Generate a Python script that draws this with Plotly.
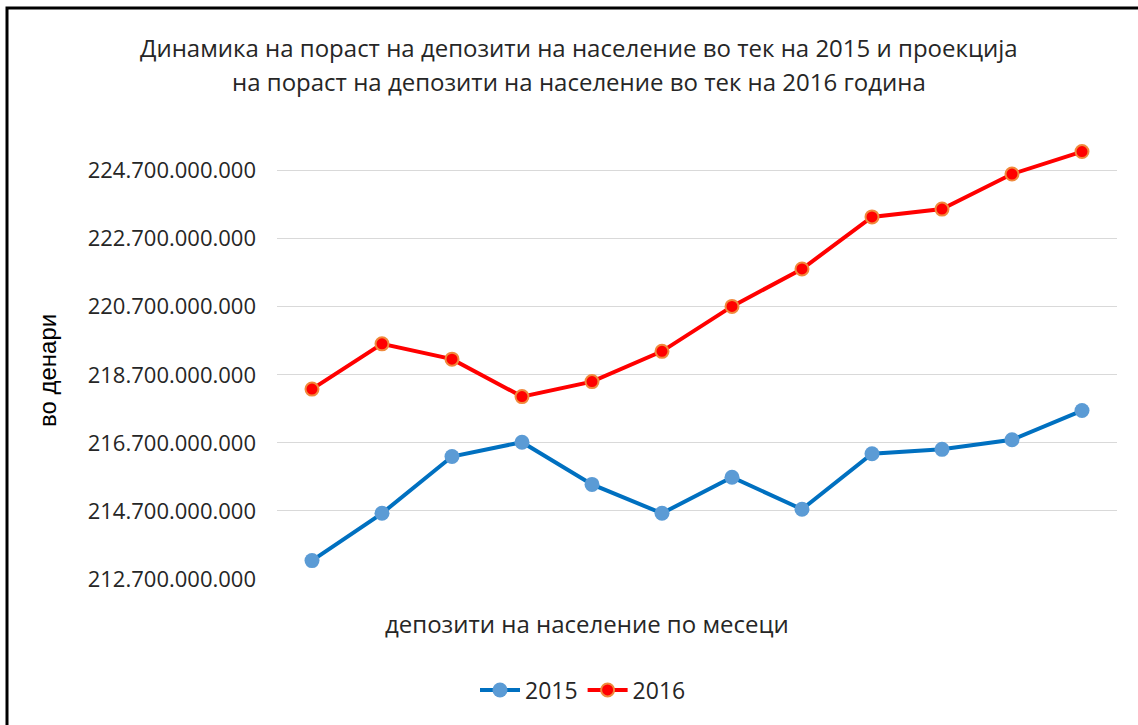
import plotly.graph_objects as go

months = ["Јан", "Фев", "Мар", "Апр", "Мај", "Јун", "Јул", "Авг", "Сеп", "Окт", "Ное", "Дек"]
dep_2015 = [213.24e9, 214.63e9, 216.30e9, 216.72e9, 215.48e9, 214.63e9,
            215.69e9, 214.75e9, 216.38e9, 216.51e9, 216.79e9, 217.65e9]
dep_2016 = [218.28e9, 219.61e9, 219.16e9, 218.06e9, 218.50e9, 219.39e9,
            220.71e9, 221.81e9, 223.34e9, 223.57e9, 224.60e9, 225.26e9]
tick_vals = [212.7e9, 214.7e9, 216.7e9, 218.7e9, 220.7e9, 222.7e9, 224.7e9]
tick_text = ["212.700.000.000", "214.700.000.000", "216.700.000.000", "218.700.000.000",
             "220.700.000.000", "222.700.000.000", "224.700.000.000"]

title_line1 = "Динамика на пораст на депозити на население во тек на 2015 и проекција"
title_line2 = "на пораст на депозити на население во тек на 2016 година"
y_title = "во денари"
x_title = "депозити на население по месеци"

FONT = "Open Sans"
TXT = "#262626"

fig = go.Figure()
fig.add_trace(go.Scatter(
    x=months, y=dep_2015, name="2015", mode="lines+markers",
    line=dict(color="#0070C0", width=4),
    marker=dict(color="#5B9BD5", size=15, line=dict(width=0)),
))
fig.add_trace(go.Scatter(
    x=months, y=dep_2016, name="2016", mode="lines+markers",
    line=dict(color="#FF0000", width=4),
    marker=dict(color="#FF0000", size=13, line=dict(color="#F08A3C", width=2)),
))

L, R, T, B = 277, 21, 140, 146
W, H = 1138, 725
pw, ph = W - L - R, H - T - B

def px_x(x):
    return (x - L) / pw

def px_y(y):
    return (H - B - y) / ph

def label(text, x, y, size, family=FONT, color=TXT, angle=0):
    return dict(text=text, x=px_x(x), y=px_y(y), xref="paper", yref="paper",
                showarrow=False, textangle=angle, xanchor="center", yanchor="middle",
                font=dict(size=size, family=family, color=color))

fig.update_layout(
    width=W, height=H,
    margin=dict(l=L, r=R, t=T, b=B),
    paper_bgcolor="white", plot_bgcolor="white",
    font=dict(family=FONT, color=TXT),
    showlegend=True,
    legend=dict(orientation="h", x=px_x(583), xanchor="center",
                y=px_y(690), yanchor="middle",
                font=dict(size=23, family=FONT, color=TXT),
                itemwidth=40, tracegroupgap=0),
    xaxis=dict(type="category", showticklabels=False, showgrid=False,
               showline=False, zeroline=False, ticks="",
               range=[-0.5, 11.5]),
    yaxis=dict(range=[212.7e9, 225.6e9], tickvals=tick_vals, ticktext=tick_text,
               showgrid=True, gridcolor="#D9D9D9", gridwidth=1,
               zeroline=False, showline=False, ticks="",
               ticklabelstandoff=20,
               tickfont=dict(size=22, family=FONT, color=TXT)),
    annotations=[
        label(title_line1, 579, 47, 24),
        label(title_line2, 579, 82, 24),
        label(y_title, 47, 370, 24, family="Liberation Sans", color="black", angle=-90),
        label(x_title, 587, 623, 24),
    ],
    shapes=[
        dict(type="rect", xref="paper", yref="paper",
             x0=px_x(7), x1=px_x(1150), y0=px_y(740), y1=px_y(8),
             line=dict(color="black", width=3), fillcolor="rgba(0,0,0,0)",
             layer="above"),
    ],
)

fig.write_html("out.html")
